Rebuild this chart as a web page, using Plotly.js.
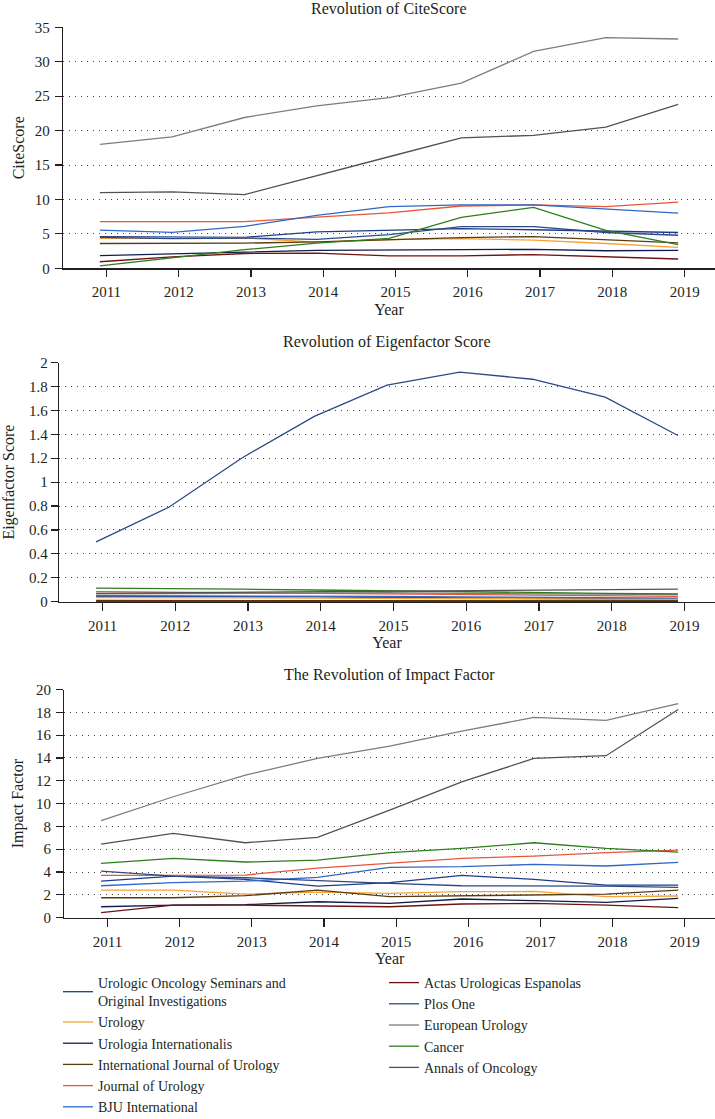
<!DOCTYPE html>
<html><head><meta charset="utf-8">
<script src="https://cdn.plot.ly/plotly-3.0.1.min.js"></script>
<style>html,body{margin:0;padding:0;background:#fff}#chart{width:715px;height:1119px}</style>
</head><body><div id="chart"></div>
<script>
// ---------- DATA ----------
const years = [2011, 2012, 2013, 2014, 2015, 2016, 2017, 2018, 2019];

const journalNames = [
  'Urologic Oncology Seminars and<br>Original Investigations',
  'Urology',
  'Urologia Internationalis',
  'International Journal of Urology',
  'Journal of Urology',
  'BJU International',
  'Actas Urologicas Espanolas',
  'Plos One',
  'European Urology',
  'Cancer',
  'Annals of Oncology'
];

// CiteScore
const citeUroOnc   = [4.6, 4.5, 4.5, 5.3, 5.5, 5.75, 5.6, 5.4, 5.2];
const citeUrology  = [4.35, 4.4, 4.4, 3.8, 4.15, 4.3, 4.1, 3.6, 3.05];
const citeUroInt   = [1.85, 2.15, 2.35, 2.6, 2.65, 2.65, 2.75, 2.55, 2.6];
const citeIJU      = [3.6, 3.6, 3.65, 3.85, 4.2, 4.45, 4.6, 4.15, 3.7];
const citeJU       = [6.78, 6.78, 6.78, 7.42, 8.05, 9.05, 9.2, 8.96, 9.6];
const citeBJU      = [5.55, 5.22, 6.1, 7.7, 8.95, 9.2, 9.2, 8.6, 8.0];
const citeActas    = [0.95, 1.65, 2.15, 2.2, 1.8, 1.8, 2.0, 1.7, 1.35];
const citePlos     = [4.5, 4.3, 4.4, 4.2, 4.9, 6.05, 6.05, 5.2, 4.8];
const citeEurUro   = [18.0, 19.1, 21.9, 23.6, 24.8, 26.9, 31.5, 33.5, 33.3];
const citeCancer   = [0.35, 1.5, 2.7, 3.65, 4.35, 7.4, 8.85, 5.5, 3.45];
const citeAnnals   = [11.0, 11.1, 10.7, 13.4, 16.2, 18.95, 19.3, 20.5, 23.8];

// Eigenfactor Score
const eigUroOnc  = [0.045, 0.045, 0.044, 0.04, 0.035, 0.03, 0.025, 0.022, 0.02];
const eigUrology = [0.035, 0.035, 0.032, 0.03, 0.028, 0.026, 0.024, 0.022, 0.02];
const eigUroInt  = [0.005, 0.005, 0.005, 0.004, 0.004, 0.004, 0.004, 0.003, 0.003];
const eigIJU     = [0.01, 0.01, 0.01, 0.01, 0.01, 0.009, 0.009, 0.009, 0.008];
const eigJU      = [0.085, 0.08, 0.075, 0.07, 0.065, 0.06, 0.055, 0.05, 0.045];
const eigBJU     = [0.05, 0.05, 0.048, 0.046, 0.044, 0.04, 0.035, 0.033, 0.03];
const eigActas   = [0.002, 0.002, 0.002, 0.002, 0.002, 0.002, 0.002, 0.001, 0.001];
const eigPlos    = [0.50, 0.79, 1.20, 1.55, 1.81, 1.92, 1.86, 1.71, 1.39];
const eigEurUro  = [0.065, 0.068, 0.07, 0.072, 0.075, 0.07, 0.065, 0.062, 0.06];
const eigCancer  = [0.113, 0.112, 0.105, 0.098, 0.09, 0.08, 0.075, 0.07, 0.065];
const eigAnnals  = [0.07, 0.075, 0.08, 0.085, 0.09, 0.09, 0.095, 0.1, 0.105];

// Impact Factor
const ifUroOnc  = [3.2, 3.65, 3.36, 2.77, 3.07, 3.71, 3.36, 2.86, 2.86];
const ifUrology = [2.42, 2.42, 2.07, 2.25, 2.13, 2.28, 2.3, 1.84, 1.9];
const ifUroInt  = [0.96, 1.1, 1.14, 1.4, 1.26, 1.64, 1.49, 1.34, 1.69];
const ifIJU     = [1.75, 1.75, 1.93, 2.42, 1.84, 1.9, 1.98, 2.07, 2.42];
const ifJU      = [3.71, 3.71, 3.74, 4.35, 4.76, 5.2, 5.4, 5.7, 5.93];
const ifBJU     = [2.8, 3.07, 3.2, 3.53, 4.41, 4.47, 4.67, 4.53, 4.85];
const ifActas   = [0.44, 1.1, 1.1, 1.02, 0.96, 1.2, 1.26, 1.1, 0.88];
const ifPlos    = [4.09, 3.65, 3.5, 3.24, 3.0, 2.8, 2.77, 2.77, 2.66];
const ifEurUro  = [8.5, 10.6, 12.5, 13.96, 15.04, 16.35, 17.55, 17.3, 18.77];
const ifCancer  = [4.76, 5.2, 4.88, 5.05, 5.7, 6.07, 6.57, 6.07, 5.75];
const ifAnnals  = [6.45, 7.39, 6.57, 7.04, 9.43, 11.9, 13.96, 14.2, 18.25];

const citeData  = [citeUroOnc, citeUrology, citeUroInt, citeIJU, citeJU, citeBJU, citeActas, citePlos, citeEurUro, citeCancer, citeAnnals];
const eigenData = [eigUroOnc, eigUrology, eigUroInt, eigIJU, eigJU, eigBJU, eigActas, eigPlos, eigEurUro, eigCancer, eigAnnals];
const ifData    = [ifUroOnc, ifUrology, ifUroInt, ifIJU, ifJU, ifBJU, ifActas, ifPlos, ifEurUro, ifCancer, ifAnnals];

// ---------- STYLE ----------
const colors = ['#1f3c88', '#f7a232', '#0f1c4d', '#5a3c12', '#e8553a', '#2f68c8',
                '#6e1212', '#2d4a85', '#7d7d7d', '#2e7d1e', '#525252'];
const legendOf = ['legend','legend','legend','legend','legend','legend',
                  'legend2','legend2','legend2','legend2','legend2'];

const W = 715, H = 1119;
const FONT = '"Liberation Serif", "Times New Roman", serif';
const INK = '#231f20';
const py = p => 1 - p / H;
const px = p => p / W;
const xRange = [2010.49, 2019.51];
const tickShift = 0.09;

const panels = [
  {data: citeData,  left: 63,   top: 27.3,  bottom: 268.3, yMax: 35, dtick: 5,   ytitle: 'CiteScore',
   title: 'Revolution of CiteScore', titleY: 8.5, ytStand: 6, ylabGap: 2},
  {data: eigenData, left: 59,   top: 362.5, bottom: 601.7, yMax: 2,  dtick: 0.2, ytitle: 'Eigenfactor Score',
   title: 'Revolution of Eigenfactor Score', titleY: 342, ytStand: 10, ylabGap: 0},
  {data: ifData,    left: 64.3, top: 689.5, bottom: 917.7, yMax: 20, dtick: 2,   ytitle: 'Impact Factor',
   title: 'The Revolution of Impact Factor', titleY: 675, ytStand: 8, ylabGap: 2}
];

const legendFont = {family: FONT, size: 14, color: INK};
const traces = [];
const layout = {
  width: W, height: H,
  margin: {l: 0, r: 0, t: 0, b: 0, autoexpand: false},
  paper_bgcolor: '#fff', plot_bgcolor: '#fff',
  font: {family: FONT, size: 15, color: INK},
  showlegend: true,
  annotations: [],
  legend: {x: px(58), y: py(967), xanchor: 'left', yanchor: 'top', orientation: 'v',
           bgcolor: 'rgba(0,0,0,0)', font: legendFont, tracegroupgap: 0, traceorder: 'normal'},
  legend2: {x: px(384), y: py(967), xanchor: 'left', yanchor: 'top', orientation: 'v',
           bgcolor: 'rgba(0,0,0,0)', font: legendFont, tracegroupgap: 0, traceorder: 'normal'}
};

panels.forEach((p, i) => {
  const n = i + 1;
  const xa = n === 1 ? 'x' : 'x' + n;
  const ya = n === 1 ? 'y' : 'y' + n;
  const tx = 'x' + (n + 3);
  const dom = [px(p.left), 1];
  layout[n === 1 ? 'xaxis' : 'xaxis' + n] = {
    domain: dom, range: xRange, anchor: ya, showline: true, linecolor: INK, linewidth: 1.3,
    ticks: '', showticklabels: false, showgrid: false, zeroline: false, fixedrange: true
  };
  layout['xaxis' + (n + 3)] = {
    domain: dom, range: [xRange[0] - tickShift, xRange[1] - tickShift], anchor: ya, overlaying: xa,
    tickmode: 'array', tickvals: years, ticktext: years.map(String),
    ticks: 'outside', ticklen: 8, tickwidth: 1.2, tickcolor: INK, ticklabelstandoff: 2,
    showline: false, showgrid: false, zeroline: false,
    tickfont: {family: FONT, size: 15, color: INK},
    title: {text: 'Year', font: {family: FONT, size: 16, color: INK}, standoff: 4}
  };
  layout[n === 1 ? 'yaxis' : 'yaxis' + n] = {
    domain: [py(p.bottom), py(p.top)], range: [0, p.yMax], dtick: p.dtick, tick0: 0, anchor: xa,
    showline: true, linecolor: INK, linewidth: 1.3,
    ticks: 'outside', ticklen: 7, tickwidth: 1.2, tickcolor: INK, ticklabelstandoff: p.ylabGap,
    showgrid: true, gridcolor: '#444', gridwidth: 1, griddash: '1px,5px', zeroline: false,
    tickfont: {family: FONT, size: 15, color: INK},
    title: {text: p.ytitle, font: {family: FONT, size: 16, color: INK}, standoff: p.ytStand}
  };
  layout.annotations.push({
    text: p.title, xref: 'paper', yref: 'paper', x: (px(p.left) + 1) / 2, y: py(p.titleY),
    xanchor: 'center', yanchor: 'middle', showarrow: false,
    font: {family: FONT, size: 16, color: INK}
  });
  // invisible helper trace so the tick axis is drawn
  traces.push({x: years, y: years.map(() => null), xaxis: tx, yaxis: ya, type: 'scatter',
               mode: 'lines', showlegend: false, hoverinfo: 'skip'});
  p.data.forEach((vals, k) => {
    traces.push({
      x: years, y: vals, xaxis: xa, yaxis: ya, type: 'scatter', mode: 'lines',
      name: journalNames[k], line: {color: colors[k], width: 1.3},
      legend: legendOf[k], showlegend: i === 0
    });
  });
});

Plotly.newPlot('chart', traces, layout, {displayModeBar: false, staticPlot: true});
</script>
</body></html>
